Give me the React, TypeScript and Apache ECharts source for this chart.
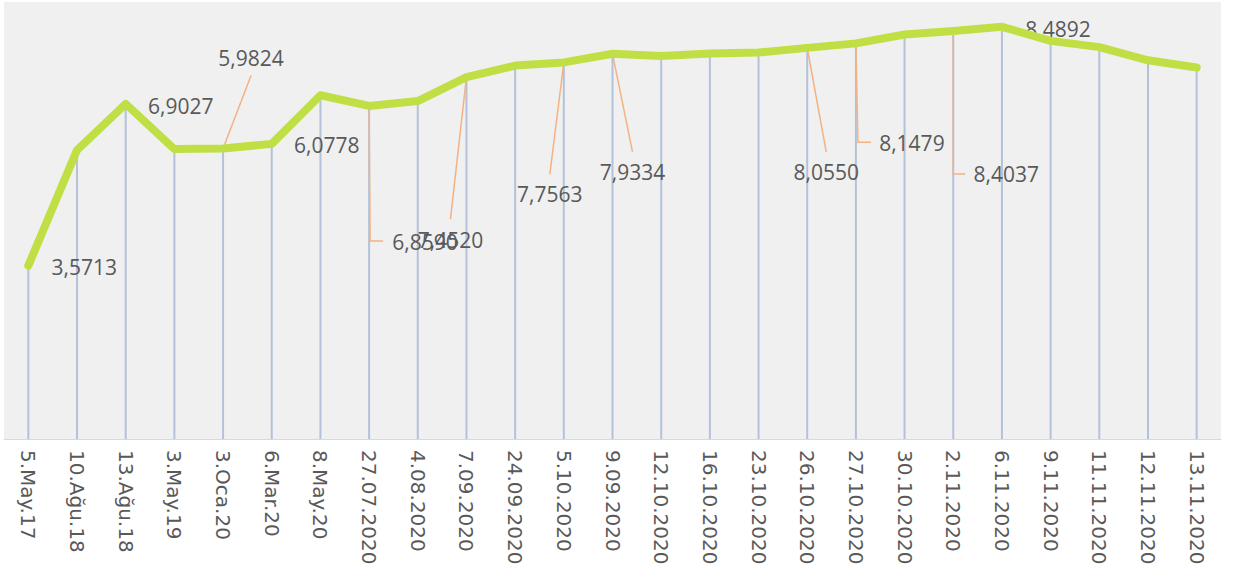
import React, { useEffect, useRef } from "react";
import * as echarts from "echarts";

const categories = [
  "5.May.17", "10.Ağu.18", "13.Ağu.18", "3.May.19", "3.Oca.20", "6.Mar.20", "8.May.20",
  "27.07.2020", "4.08.2020", "7.09.2020", "24.09.2020", "5.10.2020", "9.09.2020",
  "12.10.2020", "16.10.2020", "23.10.2020", "26.10.2020", "27.10.2020", "30.10.2020",
  "2.11.2020", "6.11.2020", "9.11.2020", "11.11.2020", "12.11.2020", "13.11.2020",
];

const values = [
  3.5713, 5.95, 6.9027, 5.97, 5.9824, 6.0778, 7.08, 6.859, 6.96, 7.452, 7.69, 7.7563,
  7.9334, 7.89, 7.94, 7.96, 8.055, 8.1479, 8.33, 8.4037, 8.4892, 8.2, 8.07, 7.8, 7.65,
];

const labeledIndices = [0, 2, 4, 5, 7, 9, 11, 12, 16, 17, 19, 20];

// label placement (offsets from the point, in px) and leader line shapes
const labelLayouts: Record<number, { dx: number; dy: number; leader?: number[][] }> = {
  0: { dx: 56, dy: 1 },
  2: { dx: 55, dy: 2 },
  4: { dx: 28, dy: -91, leader: [[0, 0], [28, -73]] },
  5: { dx: 55, dy: 1 },
  7: { dx: 56, dy: 136, leader: [[0, 0], [1, 135], [14, 135]] },
  9: { dx: -16, dy: 163, leader: [[0, 0], [-16, 142]] },
  11: { dx: -14, dy: 132, leader: [[0, 0], [-14, 112]] },
  12: { dx: 20, dy: 118, leader: [[0, 0], [20, 98]] },
  16: { dx: 19, dy: 124, leader: [[0, 0], [19, 104]] },
  17: { dx: 56, dy: 100, leader: [[0, 0], [2, 99], [15, 99]] },
  19: { dx: 53, dy: 143, leader: [[0, 0], [0, 143], [12, 143]] },
  20: { dx: 56, dy: 2 },
};

const fmt = (v: number) => v.toFixed(4).replace(".", ",");

export default function App() {
  const ref = useRef<HTMLDivElement>(null);

  useEffect(() => {
    if (!ref.current) return;
    const chart = echarts.init(ref.current, undefined, { renderer: "svg" });
    const annData = labeledIndices.map((i) => [i, values[i]]);
    chart.setOption({
      animation: false,
      backgroundColor: "#ffffff",
      grid: {
        left: 4,
        right: 12,
        top: 2,
        bottom: 131,
        show: true,
        backgroundColor: "#f0f0f0",
        borderWidth: 0,
      },
      xAxis: {
        type: "category",
        data: categories,
        boundaryGap: true,
        axisLine: { show: true, lineStyle: { color: "#d9d9d9", width: 1 } },
        axisTick: { show: false },
        splitLine: { show: false },
        axisLabel: {
          interval: 0,
          rotate: -90,
          margin: 11,
          color: "#595959",
          fontFamily: "DejaVu Sans",
          fontSize: 20,
        },
      },
      yAxis: {
        type: "value",
        min: 0,
        max: 9,
        show: false,
        splitLine: { show: false },
      },
      series: [
        {
          type: "bar",
          data: values,
          barWidth: 2,
          itemStyle: { color: "#b4c2d9" },
          z: 1,
          silent: true,
        },
        {
          type: "custom",
          coordinateSystem: "cartesian2d",
          data: annData,
          encode: { x: 0, y: 1 },
          z: 2,
          renderItem: (params: any, api: any) => {
            const idx = api.value(0);
            const val = api.value(1);
            const p = api.coord([idx, val]);
            const lay = labelLayouts[idx];
            const children: any[] = [];
            if (lay.leader) {
              children.push({
                type: "polyline",
                shape: { points: lay.leader.map((o) => [p[0] + o[0], p[1] + o[1]]) },
                style: { stroke: "#f4b183", lineWidth: 1.5, fill: null },
              });
            }
            children.push({
              type: "text",
              x: p[0] + lay.dx,
              y: p[1] + lay.dy,
              style: {
                text: fmt(val),
                fill: "#595959",
                fontFamily: "Open Sans",
                fontSize: 21,
                align: "center",
                verticalAlign: "middle",
              },
            });
            return { type: "group", children };
          },
        },
        {
          type: "line",
          data: values,
          symbol: "none",
          z: 3,
          lineStyle: { color: "#bfdf45", width: 8, cap: "round", join: "round" },
          silent: true,
        },
      ],
    });
    return () => chart.dispose();
  }, []);

  return (
    <div
      ref={ref}
      style={{ position: "absolute", left: 0, top: 0, width: 1233, height: 570 }}
    />
  );
}
